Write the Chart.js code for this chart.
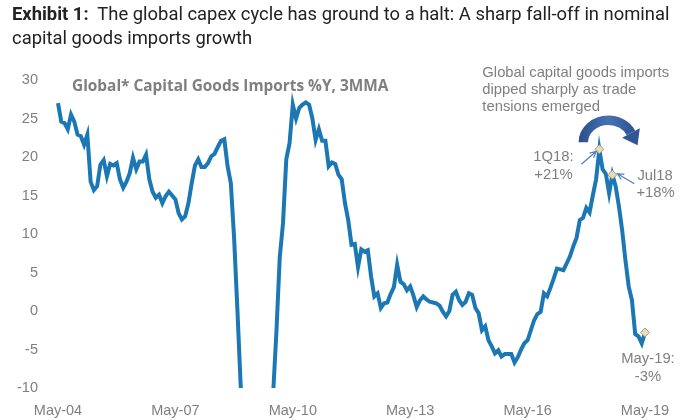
<!DOCTYPE html>
<html>
<head>
<meta charset="utf-8">
<script src="https://cdn.jsdelivr.net/npm/chart.js@4.4.1/dist/chart.umd.min.js"></script>
<style>
  html, body { margin: 0; padding: 0; background: #fff; }
  #wrap { position: relative; width: 700px; height: 420px; overflow: hidden; }
  #head {
    position: absolute; left: 12px; top: 2px;
    font-family: Roboto, "Liberation Sans", sans-serif;
    font-size: 18.4px; line-height: 24px; color: #222;
    white-space: nowrap;
  }
  canvas { position: absolute; left: 0; top: 0; }
</style>
</head>
<body>
<div id="wrap">
  <canvas id="chart" width="700" height="420"></canvas>
  <div id="head"><b>Exhibit 1:</b>&nbsp; The global capex cycle has ground to a halt: A sharp fall-off in nominal<br>capital goods imports growth</div>
</div>
<script>
// monthly, May-04 .. May-19, % y/y, 3mma (values below -10 run off the chart)
const imports = [
  27.0, 24.6, 24.4, 23.6, 25.5, 24.6, 22.9, 22.7, 21.6, 22.9,
  16.8, 15.7, 16.2, 19.0, 19.6, 17.5, 19.1, 18.9, 19.2, 17.1,
  16.0, 16.8, 17.9, 19.9, 18.4, 19.4, 19.4, 20.3, 17.1, 15.5,
  14.7, 15.1, 14.0, 14.9, 15.5, 15.0, 14.5, 12.7, 11.9, 12.3,
  14.0, 16.6, 18.9, 19.7, 18.7, 18.7, 19.2, 20.1, 20.4, 21.3,
  22.1, 22.3, 18.8, 16.6, 9.5, 0.3, -9.5, -16, -22, -27,
  -30, -31, -30, -27, -22, -16, -10.5, -2.5, 7.0, 11.4,
  19.7, 21.8, 26.8, 25.0, 26.4, 26.8, 27.1, 26.8, 25.0, 22.2,
  23.6, 22.1, 22.1, 18.8, 19.3, 19.1, 17.7, 17.1, 14.0, 11.8,
  8.6, 8.7, 5.7, 8.0, 7.7, 7.9, 4.5, 1.9, 2.3, 0.4,
  1.0, 1.1, 2.2, 3.1, 6.0, 3.8, 3.5, 2.7, 3.2, 2.0,
  0.5, 1.4, 1.9, 1.5, 1.2, 1.1, 1.0, 0.7, -0.1, -0.7,
  0.0, 2.1, 2.5, 1.4, 0.8, 1.2, 2.3, 2.1, 0.4, -0.3,
  -2.5, -2.0, -3.8, -4.6, -5.5, -5.1, -5.9, -5.6, -5.6, -5.6,
  -6.7, -6.0, -5.0, -4.2, -3.8, -2.5, -1.2, -0.4, -0.1, 2.3,
  1.9, 3.0, 4.2, 5.5, 5.4, 5.3, 6.2, 7.1, 8.4, 9.5,
  11.8, 12.1, 13.4, 12.8, 15.0, 17.1, 21.0, 18.4, 17.8, 15.3,
  17.7, 16.2, 13.6, 10.5, 6.6, 3.2, 1.4, -3.0, -3.3, -4.2, -2.8
];

const monthNames = ['Jan', 'Feb', 'Mar', 'Apr', 'May', 'Jun', 'Jul', 'Aug', 'Sep', 'Oct', 'Nov', 'Dec'];
const months = imports.map((v, i) => {
  const m = 4 + i;
  const yy = (4 + Math.floor(m / 12)) % 100;
  return monthNames[m % 12] + '-' + String(yy).padStart(2, '0');
});

const tickLabels = ['May-04', 'May-07', 'May-10', 'May-13', 'May-16', 'May-19'];
const yTicks = [30, 25, 20, 15, 10, 5, 0, -5, -10];

// highlighted points: 1Q18, Jul18, May-19
const markerIdx = [166, 170, 180];
const markerText = [['1Q18:', '+21%'], ['Jul18', '+18%'], ['May-19:', '-3%']];
const noteText = ['Global capital goods imports', 'dipped sharply as trade', 'tensions emerged'];
const chartTitle = 'Global* Capital Goods Imports %Y, 3MMA';

const grey = '#7f7f7f';
const lineBlue = '#1b78b5';
const labelFont = '14.8px "Liberation Sans", Arial, sans-serif';

function thinArrow(ctx, x1, y1, x2, y2) {
  const a = Math.atan2(y2 - y1, x2 - x1);
  ctx.beginPath();
  ctx.moveTo(x1, y1);
  ctx.lineTo(x2, y2);
  ctx.moveTo(x2 - 7 * Math.cos(a - 0.45), y2 - 7 * Math.sin(a - 0.45));
  ctx.lineTo(x2, y2);
  ctx.lineTo(x2 - 7 * Math.cos(a + 0.45), y2 - 7 * Math.sin(a + 0.45));
  ctx.stroke();
}

const notes = {
  id: 'notes',
  afterDatasetsDraw(chart) {
    const ctx = chart.ctx;
    const pts = chart.getDatasetMeta(0).data;
    const area = chart.chartArea;
    const q1 = pts[markerIdx[0]], jul = pts[markerIdx[1]], last = pts[markerIdx[2]];
    ctx.save();

    // panel title
    ctx.fillStyle = grey;
    ctx.font = 'bold 15.4px "Open Sans", sans-serif';
    ctx.textBaseline = 'middle';
    ctx.textAlign = 'left';
    ctx.fillText(chartTitle, area.left + 14, area.top + 7);

    ctx.font = labelFont;
    noteText.forEach((t, k) => ctx.fillText(t, q1.x - 117, 73 + k * 17));

    ctx.fillText(markerText[0][0], q1.x - 66, q1.y + 8);
    ctx.fillText(markerText[0][1], q1.x - 65, q1.y + 26);
    ctx.fillText(markerText[1][0], jul.x + 25, jul.y + 1);
    ctx.fillText(markerText[1][1], jul.x + 24, jul.y + 18);
    ctx.textAlign = 'center';
    ctx.fillText(markerText[2][0], last.x + 3, last.y + 26);
    ctx.fillText(markerText[2][1], last.x + 3, last.y + 44);

    // pointer arrows to the marked points
    ctx.strokeStyle = '#4f7fbf';
    ctx.lineWidth = 1.2;
    thinArrow(ctx, q1.x - 18, q1.y + 15, q1.x - 3, q1.y + 2);
    thinArrow(ctx, jul.x + 22, jul.y + 9, jul.x + 5, jul.y - 1);

    // big curved arrow over the peak
    const cx = q1.x + 9, cy = q1.y - 7, rx = 25, ry = 22;
    const g = ctx.createLinearGradient(cx - 30, 0, cx + 30, 0);
    g.addColorStop(0, '#2a4f8c');
    g.addColorStop(0.5, '#4672b4');
    g.addColorStop(1, '#2a4f8c');
    ctx.strokeStyle = g;
    ctx.lineWidth = 9.5;
    const th = Math.PI * 1.86;
    ctx.beginPath();
    ctx.ellipse(cx, cy, rx, ry, 0, Math.PI, th);
    ctx.stroke();
    const ex = cx + rx * Math.cos(th), ey = cy + ry * Math.sin(th);
    const dx = -rx * Math.sin(th), dy = ry * Math.cos(th);
    const len = Math.hypot(dx, dy), ux = dx / len, uy = dy / len;
    ctx.fillStyle = '#2f5696';
    ctx.beginPath();
    ctx.moveTo(ex + ux * 14, ey + uy * 14);
    ctx.lineTo(ex - uy * 10, ey + ux * 10);
    ctx.lineTo(ex + uy * 10, ey - ux * 10);
    ctx.closePath();
    ctx.fill();

    ctx.restore();
  }
};

new Chart(document.getElementById('chart'), {
  type: 'line',
  data: {
    labels: months,
    datasets: [{
      data: imports,
      borderColor: lineBlue,
      borderWidth: 4,
      tension: 0,
      clip: { left: 5, top: 5, right: 5, bottom: 0 },
      pointStyle: 'rectRot',
      pointRadius: months.map((m, i) => markerIdx.includes(i) ? 4.5 : 0),
      pointHoverRadius: 0,
      pointBackgroundColor: '#e8ddb0',
      pointBorderColor: '#9b9b9b',
      pointBorderWidth: 1
    }]
  },
  options: {
    responsive: false,
    animation: false,
    layout: { padding: { top: 80, right: 55, left: 0, bottom: 0 } },
    plugins: { legend: { display: false }, tooltip: { enabled: false } },
    scales: {
      x: {
        grid: { display: false },
        border: { display: false },
        afterFit: s => { s.height = 32; },
        ticks: {
          autoSkip: false,
          maxRotation: 0,
          padding: 6,
          color: grey,
          font: { family: '"Liberation Sans", Arial, sans-serif', size: 14.5 },
          callback: (v, i) => tickLabels.includes(months[i]) ? months[i] : null
        }
      },
      y: {
        min: yTicks[yTicks.length - 1],
        max: yTicks[0],
        grid: { display: false },
        border: { display: false },
        afterFit: s => { s.width = 58; },
        afterBuildTicks: s => { s.ticks = yTicks.map(v => ({ value: v })); },
        ticks: {
          padding: 12,
          color: grey,
          font: { family: '"Liberation Sans", Arial, sans-serif', size: 14.5 }
        }
      }
    }
  },
  plugins: [notes]
});
</script>
</body>
</html>
